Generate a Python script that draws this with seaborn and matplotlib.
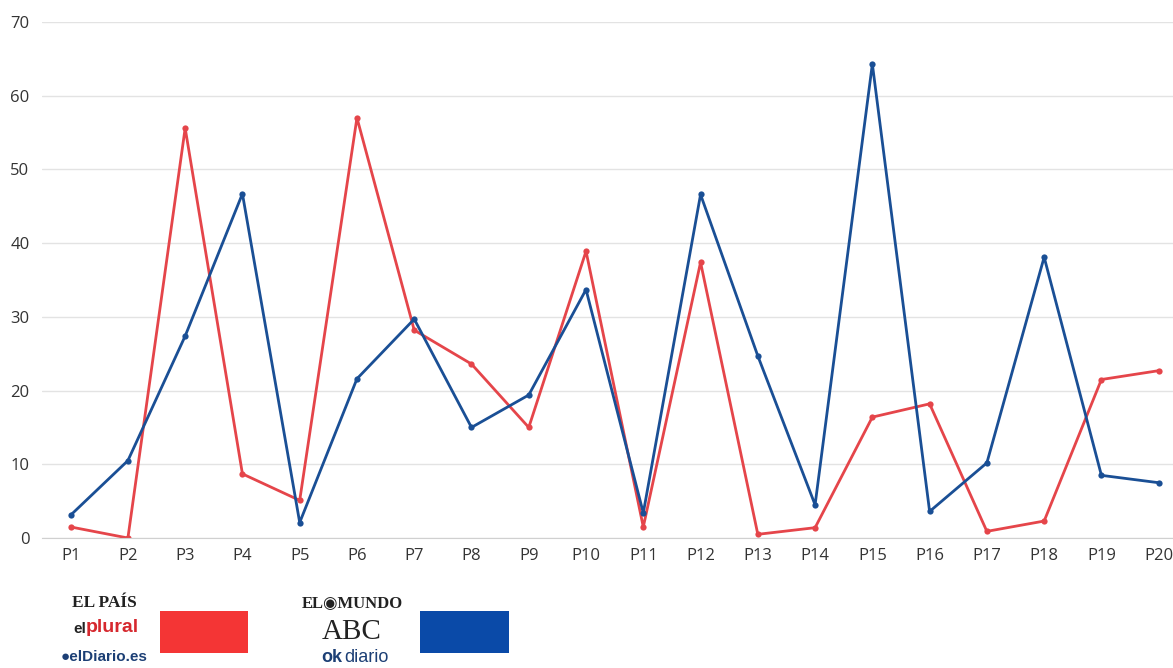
import matplotlib
matplotlib.use("Agg")
import matplotlib.pyplot as plt
from matplotlib.patches import Rectangle
import seaborn as sns
import pandas as pd

# data
labels = [f"P{i}" for i in range(1, 21)]
izquierda = [1.5, 0.0, 55.6, 8.7, 5.1, 57.0, 28.2, 23.6, 15.0, 38.9,
             1.5, 37.4, 0.5, 1.4, 16.4, 18.2, 0.9, 2.3, 21.5, 22.7]
derecha = [3.1, 10.5, 27.4, 46.7, 2.1, 21.6, 29.7, 15.0, 19.4, 33.7,
           3.4, 46.6, 24.7, 4.5, 64.3, 3.6, 10.2, 38.1, 8.5, 7.5]
yticks = [0, 10, 20, 30, 40, 50, 60, 70]

red = "#e5454a"
blue = "#1a4f95"

df = pd.DataFrame({
    "x": list(range(len(labels))) * 2,
    "valor": izquierda + derecha,
    "grupo": ["izq"] * len(labels) + ["der"] * len(labels),
})

sns.set_style("white")
plt.rcParams["font.family"] = ["Open Sans", "DejaVu Sans"]

fig = plt.figure(figsize=(11.73, 6.68), dpi=100)
ax = fig.add_axes([42 / 1173, 1 - 538 / 668, 1 - 42 / 1173, (538 - 22) / 668])

sns.lineplot(data=df, x="x", y="valor", hue="grupo", palette={"izq": red, "der": blue},
             hue_order=["izq", "der"], marker="o", markersize=4.5, markeredgewidth=0,
             linewidth=2, legend=False, ax=ax)

ax.set_xlim(-0.5, 19.25)
ax.set_ylim(0, 70)
ax.set_yticks(yticks)
ax.set_xticks(range(len(labels)))
ax.set_xticklabels(labels)
ax.grid(axis="y", color="#e3e3e3", linewidth=1)
ax.set_axisbelow(True)
ax.set_xlabel("")
ax.set_ylabel("")
for s in ["top", "right", "left"]:
    ax.spines[s].set_visible(False)
ax.spines["bottom"].set_color("#d0d0d0")
ax.tick_params(axis="both", length=0, labelsize=12, colors="#333333")
ax.tick_params(axis="x", pad=7)
ax.tick_params(axis="y", pad=9)

# legend built from logos as text plus colour blocks
def fx(px):
    return px / 1173

def fy(py):
    return 1 - py / 668

fig.text(fx(104), fy(603), "EL PAÍS", family="Liberation Serif", weight="bold",
         fontsize=12.5, ha="center", va="center", color="#222222")
fig.text(fx(80), fy(629), "el", family="Liberation Sans", weight="bold",
         fontsize=11, ha="center", va="center", color="#222222")
fig.text(fx(112), fy(628), "plural", family="Liberation Sans", weight="bold",
         fontsize=14, ha="center", va="center", color="#d6282e")
fig.text(fx(104), fy(657), "●elDiario.es", family="Liberation Sans", weight="bold",
         fontsize=11, ha="center", va="center", color="#1c3f75")
fig.add_artist(Rectangle((fx(160), fy(653)), fx(88), 42 / 668, transform=fig.transFigure,
                         facecolor="#f43535", edgecolor="none"))

fig.text(fx(352), fy(604), "EL◉MUNDO", family=["Liberation Serif", "DejaVu Serif"],
         weight="bold", fontsize=12, ha="center", va="center", color="#222222")
fig.text(fx(352), fy(632), "ABC", family="Liberation Serif", fontsize=21,
         ha="center", va="center", color="#222222")
fig.text(fx(332), fy(658), "ok", family="Liberation Sans", weight="bold",
         fontsize=13, ha="center", va="center", color="#1c3f75")
fig.text(fx(366), fy(658), "diario", family="Liberation Sans",
         fontsize=13, ha="center", va="center", color="#1c3f75")
fig.add_artist(Rectangle((fx(420), fy(653)), fx(89), 42 / 668, transform=fig.transFigure,
                         facecolor="#0a4aa8", edgecolor="none"))

fig.savefig("out.png", dpi=100)
